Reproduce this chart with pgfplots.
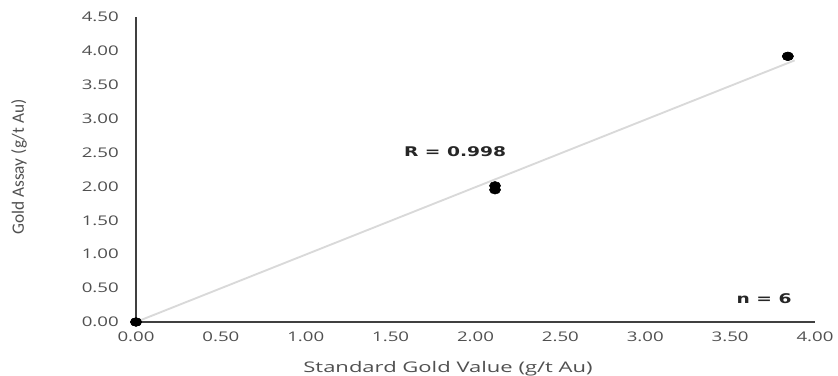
\documentclass[border=0pt]{standalone}
\usepackage{pgfplots}
\pgfplotsset{compat=1.18}
\usepackage{fontspec}
\setmainfont{Open Sans}
\newfontfamily\boldfont{DejaVu Sans}
\newfontfamily\yfont{Carlito}
\definecolor{axgray}{HTML}{404040}
\definecolor{txtgray}{HTML}{505050}
\definecolor{trend}{HTML}{D9D9D9}
\begin{document}
\begin{tikzpicture}[x=0.75pt,y=0.75pt]
\useasboundingbox (-136,-53) rectangle (702,322);
\begin{axis}[
  at={(0,0)}, anchor=origin,
  scale only axis, width=509.25pt, height=228.75pt,
  xmin=0, xmax=4, ymin=0, ymax=4.5,
  axis x line=bottom, axis y line=left,
  axis line style={axgray, line width=1.8pt, -},
  xtick={0,0.5,...,4}, ytick={0,0.5,...,4.5},
  major tick length=0pt,
  /pgf/number format/assume math mode=true,
  xticklabel style={/pgf/number format/.cd, fixed, fixed zerofill, precision=2},
  yticklabel style={/pgf/number format/.cd, fixed, fixed zerofill, precision=2},
  tick label style={font=\fontsize{10}{12}\selectfont, text=txtgray, xscale=1.4},
  xticklabel shift=4pt, yticklabel shift=8pt,
  clip=false,
]
\addplot[trend, line width=1.4pt, forget plot] coordinates {(0,0) (3.88,3.86)};
\addplot[only marks, mark=*, mark size=3.2pt, mark options={xscale=1.3, fill=black, draw=black}] coordinates {
(0,0) (0,0) (2.115,2.01) (2.115,1.95) (3.84,3.92) (3.84,3.92)};
\node[font=\boldfont\bfseries\fontsize{10}{12}\selectfont, text=black!85, xscale=1.4] at (axis cs:1.88,2.51) {R = 0.998};
\node[font=\boldfont\bfseries\fontsize{10}{12}\selectfont, text=black!85, xscale=1.4] at (axis cs:3.70,0.34) {n = 6};
\end{axis}
\node[font=\fontsize{11}{13}\selectfont, text=txtgray, xscale=1.5] at (312,-47) {Standard Gold Value (g/t Au)};
\node[font=\yfont\fontsize{13}{15}\selectfont, text=txtgray, rotate=90] at (-117,155) {Gold Assay (g/t Au)};
\end{tikzpicture}
\end{document}
